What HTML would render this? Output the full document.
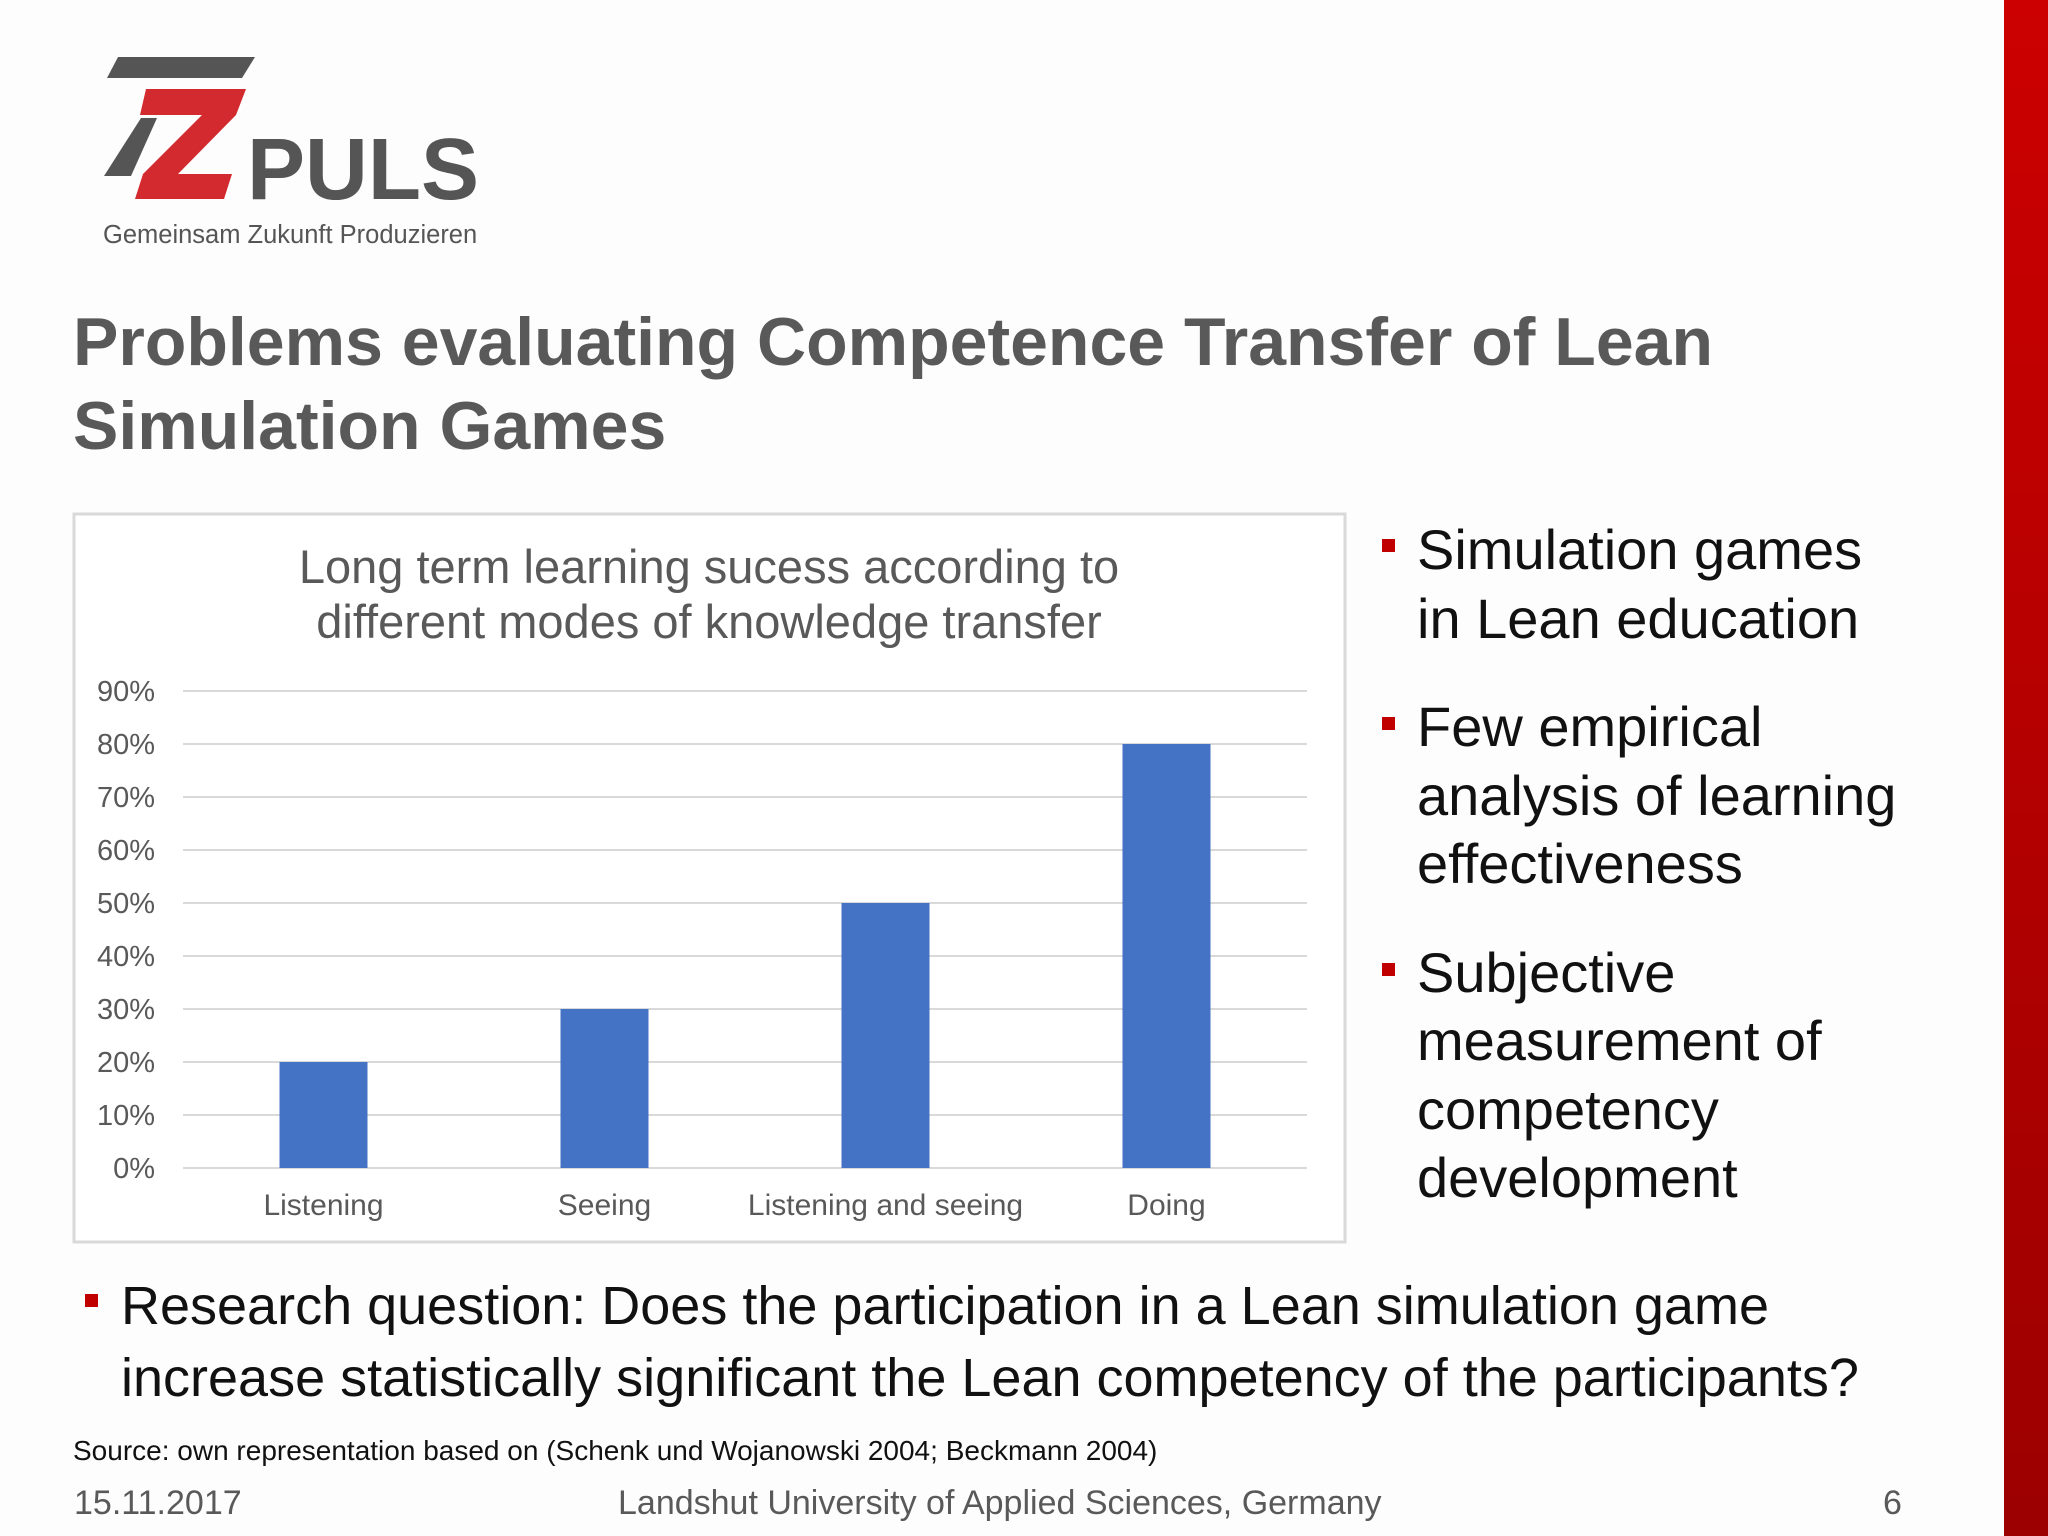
<!DOCTYPE html>
<html><head><meta charset="utf-8"><style>
body{margin:0;width:2048px;height:1536px;background:#fdfdfd;position:relative;overflow:hidden;font-family:"Liberation Sans",sans-serif}
.a{position:absolute;white-space:nowrap}
.t{font-size:68px;font-weight:bold;color:#595959}
.b{font-size:56px;color:#111}
.sq{position:absolute;width:13px;height:13px;background:#c00000}
</style></head><body>
<div style="position:absolute;left:2004px;top:0;width:44px;height:1536px;background:linear-gradient(#cc0000,#9c0000)"></div>
<svg style="position:absolute;left:0;top:0" width="560" height="300">
<polygon points="118,57 255,57 242,78 107,78" fill="#555"/>
<polygon points="141,118 157,118 131,176 104,176" fill="#555"/>
<polygon points="146,89 246,89 236,115 178,174 232,174 224,199 135,199 143,174 202,115 140,115" fill="#d32a2f"/>
<text x="247" y="199" font-family="Liberation Sans" font-weight="bold" font-size="87" fill="#555">PULS</text>
<text x="103" y="243" font-family="Liberation Sans" font-size="25.5" fill="#555">Gemeinsam Zukunft Produzieren</text>
</svg>
<div class="a t" style="left:73px;top:300px;line-height:84px">Problems evaluating Competence Transfer of Lean<br>Simulation Games</div>

<svg style="position:absolute;left:0;top:0" width="1400" height="1260" id="ch">
<rect x="74" y="514" width="1271" height="728" fill="#fff" stroke="#d9d9d9" stroke-width="3"/>
<text x="709" y="583" text-anchor="middle" font-family="Liberation Sans" font-size="47" fill="#595959">Long term learning sucess according to</text>
<text x="709" y="638" text-anchor="middle" font-family="Liberation Sans" font-size="47" fill="#595959">different modes of knowledge transfer</text>
</svg>
<script>
const categories=["Listening","Seeing","Listening and seeing","Doing"];
const values=[20,30,50,80];
const ticks=[0,10,20,30,40,50,60,70,80,90];
const svg=document.getElementById('ch');const NS='http://www.w3.org/2000/svg';
const x0=183,x1=1307,yb=1168,yt=691;
const y=v=>yb-(v/90)*(yb-yt);
const band=(x1-x0)/categories.length;
const xc=i=>x0+band*(i+0.5);
function mk(t,a){const e=document.createElementNS(NS,t);for(const k in a)e.setAttribute(k,a[k]);svg.appendChild(e);return e;}
ticks.forEach(v=>{
const l=mk('line',{x1:x0,x2:x1,y1:y(v),y2:y(v),stroke:'#d9d9d9','stroke-width':2});


const t=mk('text',{x:155,y:y(v)+10,'text-anchor':'end','font-family':'Liberation Sans','font-size':29,fill:'#595959'});t.textContent=v+'%';


});
categories.forEach((c,i)=>{
const r=mk('rect',{x:xc(i)-44,y:y(values[i]),width:88,height:yb-y(values[i]),fill:'#4472c4'});


const t=mk('text',{x:xc(i),y:1215,'text-anchor':'middle','font-family':'Liberation Sans','font-size':30,fill:'#595959'});t.textContent=c;


});
</script>

<div>
<div class="sq" style="left:1382px;top:539px"></div>
<div class="a b" style="left:1417px;top:515px;line-height:69px">Simulation games<br>in Lean education</div>
<div class="sq" style="left:1382px;top:717px"></div>
<div class="a b" style="left:1417px;top:693px;line-height:68.5px">Few empirical<br>analysis of learning<br>effectiveness</div>
<div class="sq" style="left:1382px;top:963px"></div>
<div class="a b" style="left:1417px;top:939px;line-height:68.3px">Subjective<br>measurement of<br>competency<br>development</div>
<div class="sq" style="left:85px;top:1294px"></div>
<div class="a b" style="left:121px;top:1270px;line-height:72px;font-size:54px">Research question: Does the participation in a Lean simulation game<br>increase statistically significant the Lean competency of the participants?</div>
</div>
<div class="a" style="left:73px;top:1435px;font-size:28px;color:#111">Source: own representation based on (Schenk und Wojanowski 2004; Beckmann 2004)</div>
<div class="a" style="left:74px;top:1484px;font-size:34px;color:#595959">15.11.2017</div>
<div class="a" style="left:618px;top:1484px;font-size:34px;color:#595959">Landshut University of Applied Sciences, Germany</div>
<div class="a" style="left:1883px;top:1484px;font-size:34px;color:#595959">6</div>
</body></html>
